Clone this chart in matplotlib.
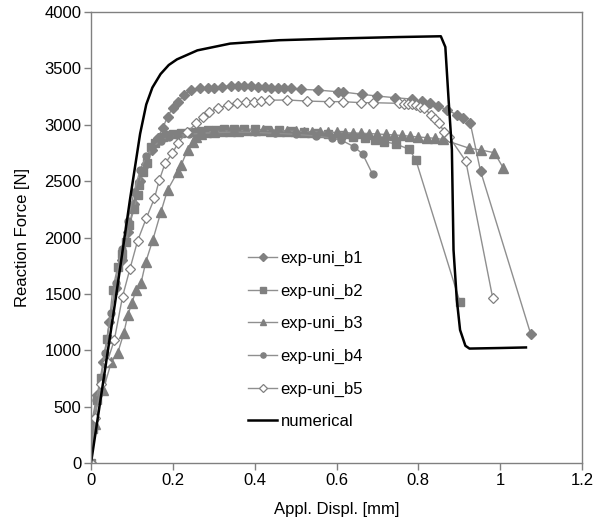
import matplotlib
matplotlib.use("Agg")
import matplotlib.pyplot as plt
from matplotlib.ticker import FuncFormatter, MultipleLocator

plt.rcParams['font.family'] = ['Liberation Sans', 'DejaVu Sans']

# exp-uni_b1 (filled diamonds)
b1_x = [0, 0.005, 0.015, 0.03, 0.045, 0.06, 0.075, 0.09, 0.105, 0.12, 0.135, 0.15, 0.163,
        0.175, 0.187, 0.2, 0.212, 0.228, 0.244, 0.267, 0.285, 0.301, 0.32, 0.342, 0.36, 0.374,
        0.39, 0.407, 0.425, 0.44, 0.456, 0.472, 0.49, 0.513, 0.554, 0.603, 0.617, 0.662, 0.699,
        0.743, 0.784, 0.808, 0.829, 0.849, 0.87, 0.894, 0.91, 0.927, 0.952, 1.075]
b1_y = [0, 380, 600, 900, 1250, 1550, 1800, 2050, 2300, 2500, 2650, 2780, 2880,
        2968, 3072, 3150, 3200, 3265, 3308, 3323, 3328, 3330, 3338, 3344, 3344, 3344,
        3340, 3338, 3335, 3329, 3329, 3329, 3322, 3314, 3308, 3293, 3290, 3270, 3255,
        3240, 3228, 3210, 3190, 3166, 3131, 3090, 3056, 3012, 2590, 1140]

# exp-uni_b2 (filled squares)
b2_x = [0, 0.005, 0.015, 0.025, 0.04, 0.053, 0.065, 0.075, 0.086, 0.094, 0.105, 0.114, 0.118,
        0.126, 0.138, 0.147, 0.157, 0.167, 0.177, 0.187, 0.2, 0.22, 0.244, 0.265, 0.285, 0.305,
        0.326, 0.35, 0.375, 0.4, 0.43, 0.46, 0.49, 0.52, 0.55, 0.58, 0.611, 0.64, 0.67, 0.695,
        0.716, 0.745, 0.778, 0.794, 0.902]
b2_y = [0, 300, 560, 750, 1100, 1534, 1741, 1850, 1963, 2111, 2250, 2377, 2466,
        2584, 2658, 2805, 2840, 2865, 2890, 2909, 2915, 2924, 2938, 2945, 2953, 2958,
        2960, 2962, 2962, 2960, 2955, 2950, 2945, 2940, 2930, 2920, 2909, 2895, 2880, 2865,
        2850, 2830, 2782, 2687, 1425]

# exp-uni_b3 (filled triangles)
b3_x = [0, 0.01, 0.03, 0.05, 0.065, 0.08, 0.09, 0.1, 0.11, 0.122, 0.134, 0.151, 0.171, 0.187,
        0.212, 0.22, 0.236, 0.25, 0.257, 0.27, 0.281, 0.3, 0.32, 0.34, 0.36, 0.38, 0.4, 0.42,
        0.44, 0.46, 0.48, 0.5, 0.52, 0.54, 0.56, 0.58, 0.6, 0.62, 0.64, 0.66, 0.68, 0.7, 0.72,
        0.74, 0.76, 0.78, 0.8, 0.82, 0.84, 0.86, 0.925, 0.953, 0.986, 1.008]
b3_y = [0, 350, 650, 900, 973, 1150, 1312, 1420, 1534, 1593, 1785, 1978, 2229, 2421,
        2584, 2640, 2776, 2850, 2890, 2920, 2935, 2940, 2942, 2945, 2948, 2950, 2950, 2950,
        2948, 2946, 2944, 2942, 2940, 2938, 2936, 2934, 2932, 2930, 2927, 2925, 2922, 2918, 2914,
        2910, 2905, 2898, 2892, 2886, 2880, 2870, 2791, 2776, 2752, 2614]

# exp-uni_b4 (filled circles)
b4_x = [0, 0.003, 0.012, 0.024, 0.033, 0.049, 0.06, 0.075, 0.09, 0.105, 0.12, 0.135, 0.15,
        0.17, 0.19, 0.21, 0.24, 0.27, 0.3, 0.35, 0.4, 0.45, 0.5, 0.55, 0.59, 0.611, 0.643,
        0.664, 0.688]
b4_y = [0, 380, 559, 736, 973, 1327, 1600, 1900, 2150, 2400, 2600, 2720, 2800,
        2860, 2890, 2905, 2915, 2925, 2930, 2935, 2932, 2925, 2915, 2900, 2880, 2865, 2805,
        2740, 2563]

# exp-uni_b5 (open diamonds)
b5_x = [0, 0.01, 0.025, 0.04, 0.057, 0.077, 0.095, 0.114, 0.135, 0.155, 0.167, 0.181, 0.199,
        0.212, 0.235, 0.257, 0.273, 0.289, 0.31, 0.334, 0.358, 0.378, 0.399, 0.415, 0.436, 0.48,
        0.529, 0.582, 0.615, 0.66, 0.688, 0.753, 0.765, 0.775, 0.785, 0.795, 0.805, 0.815, 0.83,
        0.84, 0.851, 0.863, 0.875, 0.916, 0.982]
b5_y = [0, 400, 700, 900, 1091, 1475, 1720, 1972, 2170, 2348, 2510, 2658, 2747,
        2835, 2935, 3012, 3072, 3116, 3146, 3175, 3190, 3198, 3205, 3208, 3218, 3220,
        3210, 3205, 3205, 3196, 3196, 3190, 3188, 3185, 3180, 3172, 3162, 3150, 3087,
        3050, 3012, 2938, 2894, 2678, 1460]

# numerical
num_x = [0, 0.06, 0.095, 0.12, 0.135, 0.15, 0.17, 0.19, 0.21, 0.26, 0.34, 0.46, 0.61, 0.75,
         0.855, 0.866, 0.874, 0.882, 0.886, 0.894, 0.902, 0.915, 0.925, 1.0, 1.063]
num_y = [0, 1450, 2330, 2920, 3180, 3330, 3450, 3530, 3580, 3660, 3720, 3750, 3766, 3778,
         3785, 3690, 3220, 2780, 1890, 1450, 1180, 1040, 1015, 1020, 1025]

GREY = "#808080"
LINE = "#8f8f8f"

fig = plt.figure(figsize=(5.96, 5.23), dpi=100)
ax = fig.add_axes([0.1527, 0.1147, 0.8238, 0.8623])

style = dict(color=LINE, linewidth=1.0, markeredgecolor=GREY, markerfacecolor=GREY)
ax.plot(b1_x, b1_y, marker="D", markersize=5, label="exp-uni_b1", **style)
ax.plot(b2_x, b2_y, marker="s", markersize=6, label="exp-uni_b2", **style)
ax.plot(b3_x, b3_y, marker="^", markersize=6.5, label="exp-uni_b3", **style)
ax.plot(b4_x, b4_y, marker="o", markersize=5, label="exp-uni_b4", **style)
ax.plot(b5_x, b5_y, marker="D", markersize=5, color=LINE, linewidth=1.0,
        markeredgecolor=GREY, markerfacecolor="white", markeredgewidth=0.9, label="exp-uni_b5")
ax.plot(num_x, num_y, color="black", linewidth=1.8, label="numerical")

ax.set_xlim(0, 1.2)
ax.set_ylim(0, 4000)
ax.xaxis.set_major_locator(MultipleLocator(0.2))
ax.yaxis.set_major_locator(MultipleLocator(500))
ax.xaxis.set_major_formatter(FuncFormatter(lambda v, p: f"{v:g}"))
for s in ax.spines.values():
    s.set_color(GREY)
    s.set_linewidth(1.0)
ax.tick_params(direction="out", length=5, width=1, color=GREY, labelsize=12, pad=2)

ax.set_xlabel("Appl. Displ. [mm]", fontsize=12, labelpad=10)
ax.set_ylabel("Reaction Force [N]", fontsize=12, labelpad=10)

ax.legend(loc="upper left", bbox_to_anchor=(0.402, 0.536), bbox_transform=fig.transFigure,
          frameon=False, fontsize=12, handlelength=1.75, handletextpad=0.2,
          labelspacing=1.05, borderpad=0, markerscale=0.75)

fig.savefig("out.png", dpi=100)
